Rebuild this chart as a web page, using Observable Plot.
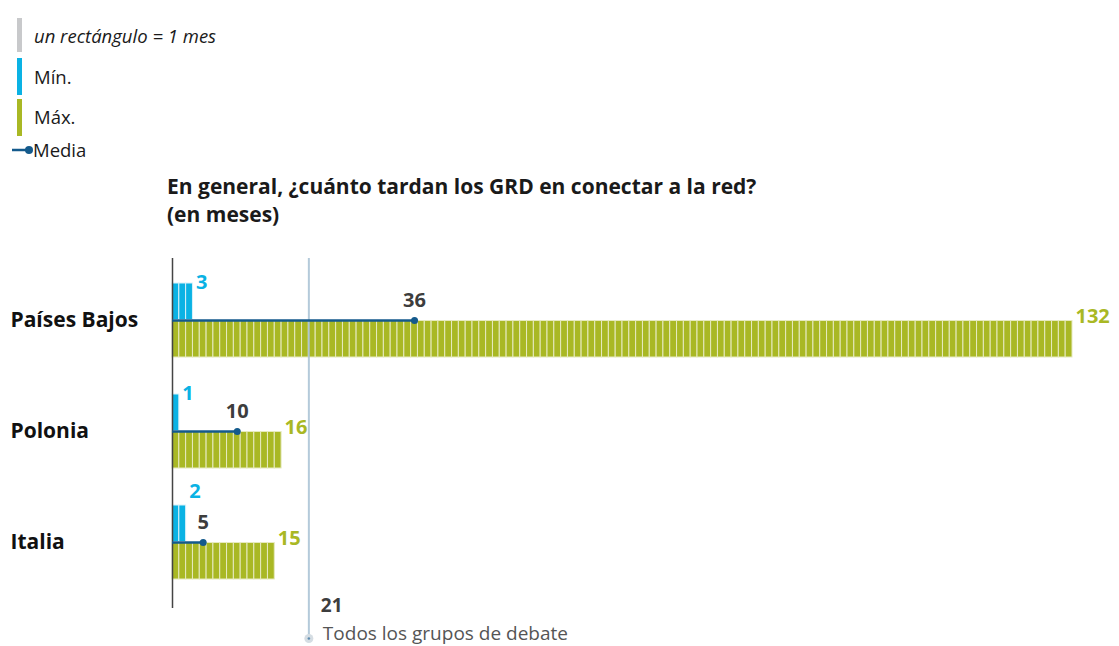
<!DOCTYPE html>
<html>
<head>
<meta charset="utf-8">
<script src="https://cdn.jsdelivr.net/npm/d3@7"></script>
<script src="https://cdn.jsdelivr.net/npm/@observablehq/plot@0.6"></script>
<style>
  html, body { margin: 0; padding: 0; background: #fff; }
  body { width: 1119px; height: 646px; position: relative; overflow: hidden; font-family: "Open Sans", sans-serif; color: #1a1a1a; }
  .leg { position: absolute; left: 0; top: 0; }
  .item { position: absolute; font-size: 18.5px; line-height: 24px; white-space: nowrap; }
  .sw { position: absolute; width: 5px; }
  .title { position: absolute; left: 167px; top: 172px; font-size: 21px; font-weight: 700; line-height: 28px; color: #1a1a1a; white-space: nowrap; }
  #chart { position: absolute; left: 0; top: 250px; }
  #chart svg { overflow: visible; }
</style>
</head>
<body>
<div class="leg">
  <div class="sw" style="left:17px;top:18px;height:34px;background:#c8c9cb"></div>
  <div class="item" style="left:34px;top:24px;font-style:italic">un rectángulo = 1 mes</div>
  <div class="sw" style="left:17px;top:58px;height:37px;background:#0ab2e4"></div>
  <div class="item" style="left:34px;top:65px">Mín.</div>
  <div class="sw" style="left:17px;top:99px;height:37px;background:#a9b824"></div>
  <div class="item" style="left:34px;top:105px">Máx.</div>
  <svg style="position:absolute;left:10px;top:143px" width="24" height="14"><line x1="2" y1="7" x2="18" y2="7" stroke="#145a8c" stroke-width="2.5"/><circle cx="19" cy="7" r="4" fill="#145a8c"/></svg>
  <div class="item" style="left:33px;top:138px">Media</div>
</div>
<div class="title">En general, ¿cuánto tardan los GRD en conectar a la red?<br>(en meses)</div>
<div id="chart"></div>
<script>
const countries = ["Países Bajos", "Polonia", "Italia"];
const minVals = [3, 1, 2];
const maxVals = [132, 16, 15];
const meanVals = [36, 10, 5];
const overallValue = 21;
const overallLabel = "Todos los grupos de debate";

const minColor = "#0ab2e4";
const maxColor = "#a9b824";
const meanColor = "#145a8c";
const refColor = "#a7c1d4";

const rows = countries.map((c, i) => ({country: c, min: minVals[i], max: maxVals[i], mean: meanVals[i]}));
const minCells = rows.flatMap(r => d3.range(r.min).map(k => ({country: r.country, k})));
const maxCells = rows.flatMap(r => d3.range(r.max).map(k => ({country: r.country, k})));

const height = 396, marginTop = 32, marginBottom = 65;
const bandwidth = (height - marginTop - marginBottom) / (countries.length - 0.33) * (1 - 0.33);
const half = bandwidth / 2;

// months are drawn as unit cells: value v occupies cell [v-1, v]
const cellMid = v => v - 0.5;
const cellStart = v => v - 1;

const plot = Plot.plot({
  width: 1119,
  height,
  marginLeft: 172,
  marginRight: 47,
  marginTop,
  marginBottom,
  style: {fontFamily: "Open Sans, sans-serif", overflow: "visible"},
  x: {domain: [0, 132], axis: null},
  y: {domain: countries, paddingInner: 0.33, paddingOuter: 0, axis: null},
  marks: [
    Plot.barX(maxCells, {x1: d => d.k, x2: d => d.k + 1, y: "country", fill: maxColor, stroke: "#e6eac0", strokeWidth: 1, insetTop: half}),
    Plot.barX(minCells, {x1: d => d.k, x2: d => d.k + 1, y: "country", fill: minColor, stroke: "#d9f1fa", strokeWidth: 1, insetBottom: half}),
    Plot.ruleX([overallValue], {x: d => cellStart(d), stroke: refColor, strokeWidth: 2, strokeOpacity: 0.85, insetTop: -24, insetBottom: -55}),
    Plot.ruleX([0], {stroke: "#444", strokeWidth: 1.5, insetTop: -24, insetBottom: -27}),
    Plot.ruleY(rows, {y: "country", x1: 0, x2: d => cellMid(d.mean), stroke: meanColor, strokeWidth: 2.5}),
    Plot.dot(rows, {y: "country", x: d => cellMid(d.mean), r: 3.5, fill: meanColor}),
    Plot.text(rows, {y: "country", x: d => cellMid(d.mean), text: d => String(d.mean), dy: -20, fill: "#3d3d3d", fontWeight: 700, fontSize: 20}),
    Plot.text(rows.filter(d => d.mean - d.min >= 5), {y: "country", x: "min", text: d => String(d.min), dx: 3, dy: -half, textAnchor: "start", fill: minColor, fontWeight: 700, fontSize: 20}),
    Plot.text(rows.filter(d => d.mean - d.min < 5), {y: "country", x: "min", text: d => String(d.min), dx: 3, dy: -half - 13, textAnchor: "start", fill: minColor, fontWeight: 700, fontSize: 20}),
    Plot.text(rows, {y: "country", x: "max", text: d => String(d.max), dx: 3, dy: -4, textAnchor: "start", fill: maxColor, fontWeight: 700, fontSize: 20}),
    Plot.text(rows, {y: "country", text: "country", frameAnchor: "left", dx: -162, textAnchor: "start", fill: "#111", fontWeight: 700, fontSize: 21}),
    Plot.dot([overallValue], {x: d => cellStart(d), frameAnchor: "bottom", dy: 57, r: 4.5, fill: "#d5dde3"}),
    Plot.dot([overallValue], {x: d => cellStart(d), frameAnchor: "bottom", dy: 57, r: 1.3, fill: "#5f8db0"}),
    Plot.text([overallValue], {x: d => cellStart(d), text: d => String(d), frameAnchor: "bottom", dy: 30, dx: 12, textAnchor: "start", fill: "#3d3d3d", fontWeight: 700, fontSize: 19}),
    Plot.text([overallLabel], {x: () => cellStart(overallValue), text: d => d, frameAnchor: "bottom", dy: 58, dx: 14, textAnchor: "start", fill: "#555", fontSize: 19})
  ]
});
document.getElementById("chart").appendChild(plot);
</script>
</body>
</html>
